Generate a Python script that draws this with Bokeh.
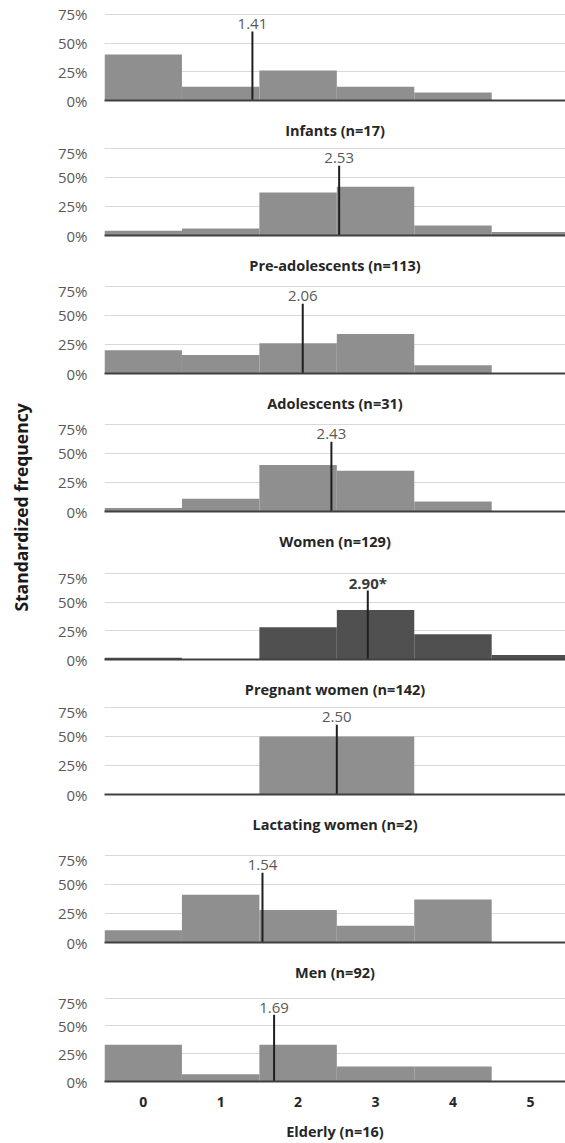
import math
from bokeh.plotting import figure
from bokeh.layouts import row, column
from bokeh.models import Range1d, NumeralTickFormatter, FixedTicker
from bokeh.core.properties import value
from bokeh.embed import file_html
from bokeh.resources import INLINE

# ---------------- data ----------------
categories = [0, 1, 2, 3, 4, 5]
group_names = ["Infants (n=17)", "Pre-adolescents (n=113)", "Adolescents (n=31)",
               "Women (n=129)", "Pregnant women (n=142)", "Lactating women (n=2)",
               "Men (n=92)", "Elderly (n=16)"]
infants = [0.40, 0.12, 0.26, 0.12, 0.07, 0.0]
pre_adolescents = [0.04, 0.06, 0.37, 0.42, 0.085, 0.03]
adolescents = [0.20, 0.16, 0.26, 0.34, 0.072, 0.0]
women = [0.03, 0.11, 0.40, 0.35, 0.085, 0.0]
pregnant_women = [0.015, 0.003, 0.28, 0.43, 0.22, 0.04]
lactating_women = [0.0, 0.0, 0.50, 0.50, 0.0, 0.0]
men = [0.105, 0.41, 0.28, 0.145, 0.37, 0.0]
elderly = [0.33, 0.065, 0.33, 0.135, 0.135, 0.0]
series = [infants, pre_adolescents, adolescents, women, pregnant_women,
          lactating_women, men, elderly]
means = [1.41, 2.53, 2.06, 2.43, 2.90, 2.50, 1.54, 1.69]
mean_labels = ["1.41", "2.53", "2.06", "2.43", "2.90*", "2.50", "1.54", "1.69"]
highlight = [False, False, False, False, True, False, False, False]
y_ticks = [0, 0.25, 0.5, 0.75]
y_label = "Standardized frequency"

# ---------------- layout ----------------
FONT = "Open Sans"
zeros = [101, 235, 373, 511, 660, 794, 942, 1085]
FRAME_H = 93
TOTAL_H = 1143
TOTAL_W = 565
LABEL_W = 40
PANEL_W = TOTAL_W - LABEL_W
FRAME_LEFT = 104
tops = [0] + [z - FRAME_H for z in zeros[1:]] + [TOTAL_H]
heights = [tops[i + 1] - tops[i] for i in range(8)]

panels = []
for i, vals in enumerate(series):
    h = heights[i]
    bt = (zeros[i] - FRAME_H) - tops[i]
    p = figure(width=PANEL_W, height=h, output_backend="svg", toolbar_location=None,
               x_range=Range1d(-0.5, 5.453), y_range=Range1d(0, 0.8),
               min_border_top=bt, min_border_right=0, min_border_left=FRAME_LEFT - LABEL_W,
               min_border_bottom=h - FRAME_H - bt)
    p.outline_line_color = None
    p.background_fill_color = "white"
    p.border_fill_color = "white"
    col = "#505050" if highlight[i] else "#8f8f8f"
    p.vbar(x=categories, top=vals, width=1.0, fill_color=col, line_color=None)
    p.segment(x0=[means[i]], y0=[0], x1=[means[i]], y1=[0.6], line_color="#1f1f1f", line_width=2)
    p.text(x=[means[i]], y=[0.665], text=[mean_labels[i]], text_align="center",
           text_baseline="middle", text_font=value(FONT), text_font_size="15px",
           text_color="#3a3a3a" if highlight[i] else "#595959",
           text_font_style="bold" if highlight[i] else "normal")
    # y axis
    p.yaxis.ticker = FixedTicker(ticks=y_ticks)
    p.yaxis.formatter = NumeralTickFormatter(format="0%")
    p.yaxis.axis_line_color = None
    p.yaxis.major_tick_line_color = None
    p.yaxis.minor_tick_line_color = None
    p.yaxis.major_tick_out = 0
    p.yaxis.major_tick_in = 0
    p.yaxis.major_label_standoff = 17
    p.yaxis.major_label_text_font = FONT
    p.yaxis.major_label_text_font_size = "15px"
    p.yaxis.major_label_text_color = "#595959"
    p.ygrid.ticker = FixedTicker(ticks=[0.25, 0.5, 0.75])
    p.ygrid.grid_line_color = "#d9d9d9"
    p.ygrid.grid_line_width = 1
    p.xgrid.grid_line_color = None
    # x axis (baseline + group title)
    p.xaxis.axis_line_color = "#404040"
    p.xaxis.axis_line_width = 2
    p.xaxis.major_tick_line_color = None
    p.xaxis.minor_tick_line_color = None
    p.xaxis.major_tick_out = 0
    p.xaxis.major_tick_in = 0
    p.xaxis.axis_label = group_names[i]
    p.xaxis.axis_label_text_font = FONT
    p.xaxis.axis_label_text_font_size = "14.5px"
    p.xaxis.axis_label_text_font_style = "bold"
    p.xaxis.axis_label_text_color = "#262626"
    if i < 7:
        p.xaxis.ticker = FixedTicker(ticks=[])
        p.xaxis.axis_label_standoff = 20
    else:
        p.xaxis.ticker = FixedTicker(ticks=categories)
        p.xaxis.major_label_standoff = 15
        p.xaxis.major_label_text_font = FONT
        p.xaxis.major_label_text_font_size = "14px"
        p.xaxis.major_label_text_font_style = "bold"
        p.xaxis.major_label_text_color = "#262626"
        p.xaxis.axis_label_standoff = 12
    panels.append(p)

lab = figure(width=LABEL_W, height=TOTAL_H, output_backend="svg", toolbar_location=None,
             x_range=Range1d(0, LABEL_W), y_range=Range1d(0, TOTAL_H),
             x_axis_type=None, y_axis_type=None, min_border=0)
lab.outline_line_color = None
lab.grid.visible = False
lab.text(x=[20], y=[TOTAL_H - 507], text=[y_label], angle=math.pi / 2,
         text_align="center", text_baseline="middle", text_font=value(FONT),
         text_font_size="17.5px", text_font_style="bold", text_color="#1a1a1a")

layout = row(lab, column(*panels))
open("out.html", "w").write(file_html(layout, INLINE))
